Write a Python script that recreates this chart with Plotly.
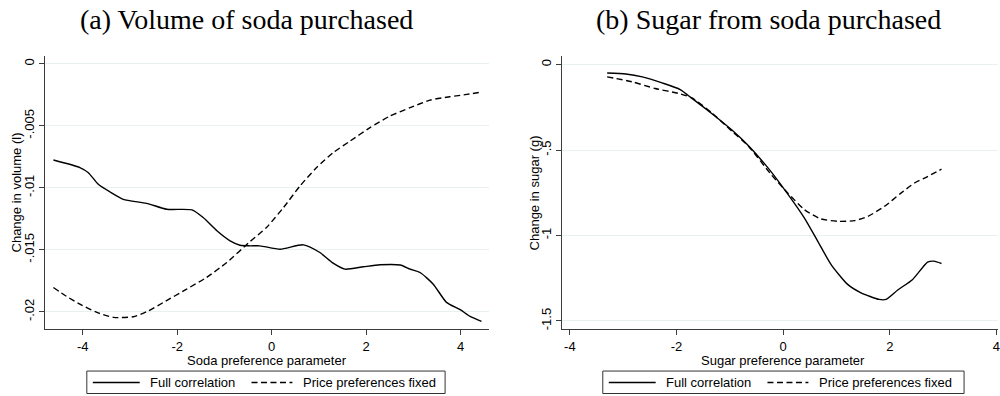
import plotly.graph_objects as go

# Panel (a): change in soda volume vs soda preference parameter
soda_x_full = [-4.62, -4.06, -3.88, -3.67, -3.42, -3.14, -2.65, -2.22, -1.69, -1.45, -1.16,
               -0.88, -0.67, -0.46, -0.25, 0.18, 0.67, 1.02, 1.30, 1.55, 1.94, 2.29, 2.72,
               2.93, 3.14, 3.42, 3.70, 3.99, 4.20, 4.44]
soda_full = [-0.00776, -0.00837, -0.00878, -0.00972, -0.01034, -0.01093, -0.01125, -0.01173,
             -0.01178, -0.01240, -0.01347, -0.01428, -0.01463, -0.01468, -0.01468, -0.01495,
             -0.01460, -0.01522, -0.01608, -0.01656, -0.01637, -0.01621, -0.01623, -0.01656,
             -0.01683, -0.01777, -0.01924, -0.01983, -0.02037, -0.02077]
soda_x_fixed = [-4.62, -4.34, -4.06, -3.70, -3.35, -2.93, -2.65, -2.29, -1.80, -1.38, -0.95,
                -0.46, -0.11, 0.25, 0.60, 0.95, 1.30, 1.66, 2.08, 2.50, 2.93, 3.35, 3.77,
                4.13, 4.44]
soda_fixed = [-0.01804, -0.01876, -0.01938, -0.02005, -0.02045, -0.02040, -0.02000, -0.01924,
              -0.01817, -0.01723, -0.01602, -0.01434, -0.01320, -0.01159, -0.00985, -0.00837,
              -0.00717, -0.00623, -0.00515, -0.00422, -0.00354, -0.00293, -0.00266, -0.00247,
              -0.00228]

# Panel (b): change in sugar vs sugar preference parameter
sugar_x_full = [-3.30, -2.95, -2.64, -2.27, -1.93, -1.71, -1.34, -0.96, -0.65, -0.28, 0.03,
                0.40, 0.65, 0.90, 1.21, 1.46, 1.80, 1.93, 2.15, 2.43, 2.71, 2.83, 2.97]
sugar_full = [-0.049, -0.055, -0.072, -0.107, -0.146, -0.198, -0.286, -0.383, -0.475, -0.606,
              -0.733, -0.898, -1.034, -1.170, -1.286, -1.335, -1.374, -1.374, -1.319, -1.257,
              -1.156, -1.150, -1.164]
sugar_x_fixed = [-3.30, -2.83, -2.40, -1.96, -1.71, -1.34, -0.96, -0.65, -0.22, 0.09, 0.40,
                 0.71, 1.03, 1.34, 1.59, 1.90, 2.21, 2.46, 2.71, 2.97]
sugar_fixed = [-0.072, -0.101, -0.140, -0.169, -0.195, -0.282, -0.390, -0.478, -0.645, -0.752,
               -0.849, -0.903, -0.917, -0.913, -0.888, -0.830, -0.752, -0.694, -0.655, -0.612]

x_ticks = [-4, -2, 0, 2, 4]
x_labels = ["-4", "-2", "0", "2", "4"]
soda_y_ticks = [0, -0.005, -0.01, -0.015, -0.02]
soda_y_labels = ["0", "-.005", "-.01", "-.015", "-.02"]
sugar_y_ticks = [0, -0.5, -1, -1.5]
sugar_y_labels = ["0", "-.5", "-1", "-1.5"]

series_names = ["Full correlation", "Price preferences fixed"]
panel_titles = ["(a) Volume of soda purchased", "(b) Sugar from soda purchased"]
x_titles = ["Soda preference parameter", "Sugar preference parameter"]
y_titles = ["Change in volume (l)", "Change in sugar (g)"]

LINE = "black"
AXIS = "#3c3c3c"
GRID = "#e9f0f2"
SANS = "Liberation Sans"
SERIF = "Liberation Serif"
SOLID = "solid"
DASH = "6px,3.5px"

W, H = 1000, 396


def px(x):
    return x / W


def py(y):
    return 1 - y / H


fig = go.Figure()
fig.add_trace(go.Scatter(x=soda_x_full, y=soda_full, mode="lines", name=series_names[0],
                         line=dict(color=LINE, width=1.4, dash=SOLID, shape="spline", smoothing=0.6),
                         xaxis="x", yaxis="y"))
fig.add_trace(go.Scatter(x=soda_x_fixed, y=soda_fixed, mode="lines", name=series_names[1],
                         line=dict(color=LINE, width=1.4, dash=DASH, shape="spline", smoothing=0.6),
                         xaxis="x", yaxis="y"))
fig.add_trace(go.Scatter(x=sugar_x_full, y=sugar_full, mode="lines", name=series_names[0],
                         line=dict(color=LINE, width=1.4, dash=SOLID, shape="spline", smoothing=0.6),
                         xaxis="x2", yaxis="y2"))
fig.add_trace(go.Scatter(x=sugar_x_fixed, y=sugar_fixed, mode="lines", name=series_names[1],
                         line=dict(color=LINE, width=1.4, dash=DASH, shape="spline", smoothing=0.6),
                         xaxis="x2", yaxis="y2"))

y_dom = [py(330), py(56.5)]

common_x = dict(showline=True, linecolor=AXIS, linewidth=1, ticks="outside", ticklen=5,
                tickcolor=AXIS, tickvals=x_ticks, ticktext=x_labels, showgrid=False,
                zeroline=False, ticklabelstandoff=0, ticklabeloverflow="allow",
                tickfont=dict(family=SANS, size=13, color="black"))
common_y = dict(showline=True, linecolor=AXIS, linewidth=1, ticks="outside", ticklen=5,
                tickcolor=AXIS, showgrid=True, gridcolor=GRID, gridwidth=1, zeroline=False,
                tickangle=-90, tickfont=dict(family=SANS, size=13, color="black"))

fig.update_layout(
    width=W, height=H, margin=dict(l=0, r=0, t=0, b=0),
    paper_bgcolor="white", plot_bgcolor="white", showlegend=False,
    xaxis=dict(domain=[px(45), px(490)], range=[-4.80, 4.60], anchor="y", **common_x),
    yaxis=dict(domain=y_dom, range=[-0.0214, 0.0006], anchor="x",
               tickvals=soda_y_ticks, ticktext=soda_y_labels, **common_y),
    xaxis2=dict(domain=[px(563.5), 1.0], range=[-4.14, 4.03], anchor="y2", **common_x),
    yaxis2=dict(domain=y_dom, range=[-1.548, 0.048], anchor="x2",
                tickvals=sugar_y_ticks, ticktext=sugar_y_labels, **common_y),
)

annotations = []
shapes = []

# Per-panel layout: title centre, x-title centre, y-title x, legend box
panels = [
    dict(title_x=247, xtitle_x=268, ytitle_x=17, box=(87, 446), offset=0),
    dict(title_x=770, xtitle_x=785, ytitle_x=536, box=(604, 966), offset=517),
]
for i, p in enumerate(panels):
    annotations += [
        dict(text=panel_titles[i], x=px(p["title_x"]), y=py(20), xref="paper", yref="paper",
             xanchor="center", yanchor="middle", showarrow=False,
             font=dict(family=SERIF, size=28, color="black")),
        dict(text=x_titles[i], x=px(p["xtitle_x"]), y=py(361), xref="paper", yref="paper",
             xanchor="center", yanchor="middle", showarrow=False,
             font=dict(family=SANS, size=13, color="black")),
        dict(text=y_titles[i], x=px(p["ytitle_x"]), y=py(193), xref="paper", yref="paper",
             xanchor="center", yanchor="middle", showarrow=False, textangle=-90,
             font=dict(family=SANS, size=13, color="black")),
    ]
    # Legend frame with line keys and labels
    x0, x1 = p["box"]
    off = p["offset"]
    shapes.append(dict(type="rect", xref="paper", yref="paper",
                       x0=px(x0), x1=px(x1), y0=py(394.5), y1=py(372),
                       line=dict(color="#333333", width=1), fillcolor="white", layer="above"))
    keys = [(93, 140, 148, SOLID), (252, 293, 302, DASH)]
    for j, (k0, k1, t0, dash) in enumerate(keys):
        shapes.append(dict(type="line", xref="paper", yref="paper",
                           x0=px(k0 + off), x1=px(k1 + off), y0=py(383.5), y1=py(383.5),
                           line=dict(color=LINE, width=1.4, dash=dash), layer="above"))
        annotations.append(dict(text=series_names[j], x=px(t0 + off), y=py(383.5),
                                xref="paper", yref="paper", xanchor="left", yanchor="middle",
                                showarrow=False, font=dict(family=SANS, size=13, color="black")))

fig.update_layout(annotations=annotations, shapes=shapes)

fig.write_html("out.html")
